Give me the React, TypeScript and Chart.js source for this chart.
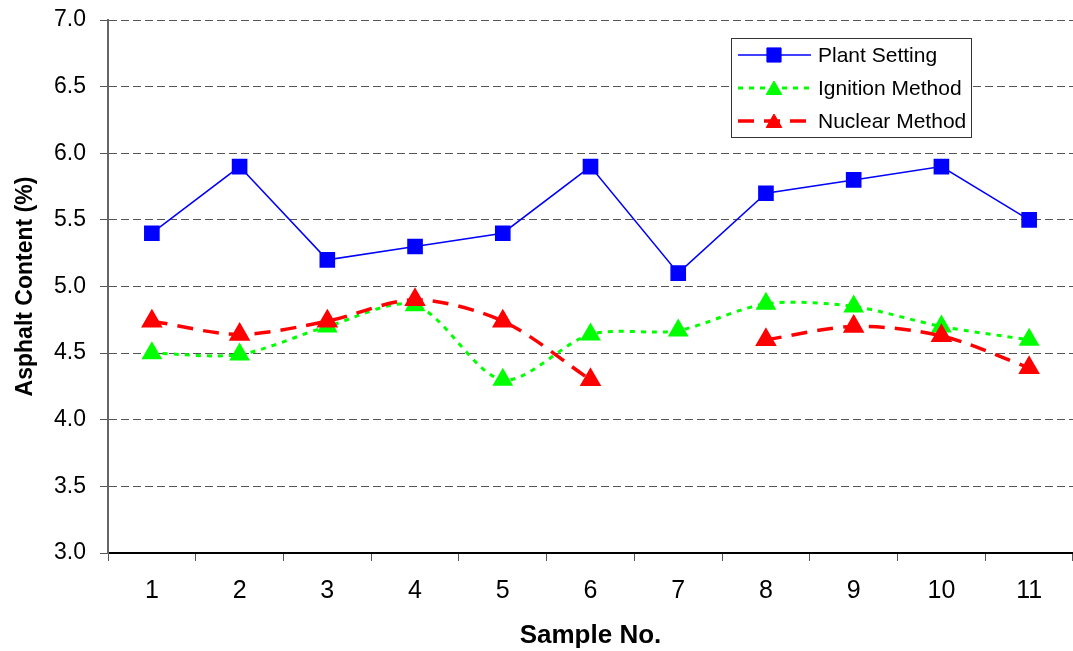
import React, { useEffect, useRef } from "react";
import { Chart, registerables } from "chart.js";

Chart.register(...registerables);

const sampleLabels = ["1", "2", "3", "4", "5", "6", "7", "8", "9", "10", "11"];
const plantSetting = [5.4, 5.9, 5.2, 5.3, 5.4, 5.9, 5.1, 5.7, 5.8, 5.9, 5.5];
const ignitionMethod = [4.5, 4.49, 4.7, 4.86, 4.3, 4.64, 4.67, 4.87, 4.85, 4.7, 4.6];
const nuclearMethod: (number | null)[] = [4.74, 4.64, 4.74, 4.9, 4.74, 4.3, null, 4.6, 4.7, 4.63, 4.39];
const seriesNames = ["Plant Setting", "Ignition Method", "Nuclear Method"];
const yMin = 3.0;
const yMax = 7.0;
const yStep = 0.5;

const FONT = "'Liberation Sans', Arial, sans-serif";

function drawMarker(ctx: CanvasRenderingContext2D, style: string, x: number, y: number, r: number, color: string) {
  ctx.save();
  ctx.fillStyle = color;
  ctx.strokeStyle = color;
  ctx.lineWidth = 1;
  ctx.setLineDash([]);
  ctx.beginPath();
  if (style === "rect") {
    const s = Math.SQRT1_2 * r;
    ctx.rect(x - s, y - s, 2 * s, 2 * s);
  } else {
    let rad = 0;
    ctx.moveTo(x + Math.sin(rad) * r, y - Math.cos(rad) * r);
    rad += (2 * Math.PI) / 3;
    ctx.lineTo(x + Math.sin(rad) * r, y - Math.cos(rad) * r);
    rad += (2 * Math.PI) / 3;
    ctx.lineTo(x + Math.sin(rad) * r, y - Math.cos(rad) * r);
    ctx.closePath();
  }
  ctx.fill();
  ctx.stroke();
  ctx.restore();
}

const boxLegend = {
  id: "boxLegend",
  afterDraw(chart: any) {
    const ctx: CanvasRenderingContext2D = chart.ctx;
    const { right, top } = chart.chartArea;
    const bx = right - 342;
    const by = top + 18;
    const bw = 240;
    const bh = 99;
    ctx.save();
    ctx.fillStyle = "#ffffff";
    ctx.fillRect(bx, by, bw, bh);
    ctx.strokeStyle = "#333333";
    ctx.lineWidth = 1;
    ctx.setLineDash([]);
    ctx.strokeRect(bx + 0.5, by + 0.5, bw, bh);
    ctx.font = `21px ${FONT}`;
    ctx.textBaseline = "middle";
    ctx.textAlign = "left";
    chart.data.datasets.forEach((ds: any, i: number) => {
      const cy = by + 17 + i * 33;
      ctx.save();
      ctx.strokeStyle = ds.borderColor;
      ctx.lineWidth = ds.borderWidth;
      ctx.setLineDash(ds.borderDash || []);
      ctx.beginPath();
      ctx.moveTo(bx + 7, cy);
      ctx.lineTo(bx + 80, cy);
      ctx.stroke();
      ctx.restore();
      drawMarker(ctx, ds.pointStyle, bx + 43, cy + (ds.pointStyle === "triangle" ? 2 : 0), ds.pointRadius, ds.pointBackgroundColor);
      ctx.fillStyle = "#000000";
      ctx.fillText(ds.label, bx + 87, cy + 1);
    });
    ctx.restore();
  },
};

export default function App() {
  const canvasRef = useRef<HTMLCanvasElement | null>(null);

  useEffect(() => {
    if (!canvasRef.current) return;
    const chart = new Chart(canvasRef.current, {
      type: "line",
      data: {
        labels: sampleLabels,
        datasets: [
          {
            label: seriesNames[0],
            data: plantSetting,
            borderColor: "#0000ff",
            backgroundColor: "#0000ff",
            pointBackgroundColor: "#0000ff",
            pointBorderColor: "#0000ff",
            borderWidth: 1.5,
            pointStyle: "rect",
            pointRadius: 10,
            tension: 0,
            order: 0,
          } as any,
          {
            label: seriesNames[1],
            data: ignitionMethod,
            borderColor: "#00ff00",
            backgroundColor: "#00ff00",
            pointBackgroundColor: "#00ff00",
            pointBorderColor: "#00ff00",
            borderWidth: 3,
            borderDash: [5, 6],
            pointStyle: "triangle",
            pointRadius: 9,
            tension: 0.3,
            order: 2,
          } as any,
          {
            label: seriesNames[2],
            data: nuclearMethod,
            borderColor: "#ff0000",
            backgroundColor: "#ff0000",
            pointBackgroundColor: "#ff0000",
            pointBorderColor: "#ff0000",
            borderWidth: 3.5,
            borderDash: [16, 10],
            pointStyle: "triangle",
            pointRadius: 9,
            tension: 0.3,
            spanGaps: false,
            order: 1,
          } as any,
        ],
      },
      options: {
        responsive: false,
        animation: false,
        layout: { autoPadding: false, padding: { top: 20, right: 0, left: 0, bottom: 0 } },
        plugins: {
          legend: { display: false },
          tooltip: { enabled: false },
        },
        scales: {
          x: {
            offset: true,
            afterFit: (scale: any) => {
              scale.height = 98;
              scale.paddingLeft = 0;
              scale.paddingRight = 0;
            },
            grid: {
              display: true,
              drawOnChartArea: false,
              drawTicks: true,
              offset: true,
              tickLength: 8,
              tickColor: "#555555",
              tickWidth: 1,
            },
            border: { display: true, color: "#000000", width: 2 },
            ticks: {
              color: "#000000",
              font: { family: FONT, size: 25 },
              padding: 15,
              maxRotation: 0,
            },
            title: {
              display: true,
              text: "Sample No.",
              color: "#000000",
              font: { family: FONT, size: 26, weight: "bold" },
              padding: { top: 0, bottom: 0 },
            },
          },
          y: {
            min: yMin,
            max: yMax,
            afterFit: (scale: any) => {
              scale.width = 108;
              scale.paddingTop = 0;
              scale.paddingBottom = 0;
            },
            grid: {
              display: true,
              color: "#555555",
              lineWidth: 1,
              drawTicks: true,
              tickLength: 8,
              tickColor: "#555555",
              tickWidth: 1,
              tickBorderDash: [],
            },
            border: { display: true, color: "#666666", width: 2, dash: [8, 4] },
            ticks: {
              stepSize: yStep,
              color: "#000000",
              font: { family: FONT, size: 23 },
              padding: 14,
              callback: (v: any) => Number(v).toFixed(1),
            },
            title: {
              display: true,
              text: "Asphalt Content (%)",
              color: "#000000",
              font: { family: FONT, size: 23, weight: "bold" },
              padding: { top: 12, bottom: 0 },
            },
          },
        },
      },
      plugins: [boxLegend],
    });
    return () => chart.destroy();
  }, []);

  return (
    <div style={{ position: "absolute", left: 0, top: 0, width: 1073, height: 651, background: "#ffffff" }}>
      <canvas ref={canvasRef} width={1073} height={651} style={{ display: "block" }} />
    </div>
  );
}
